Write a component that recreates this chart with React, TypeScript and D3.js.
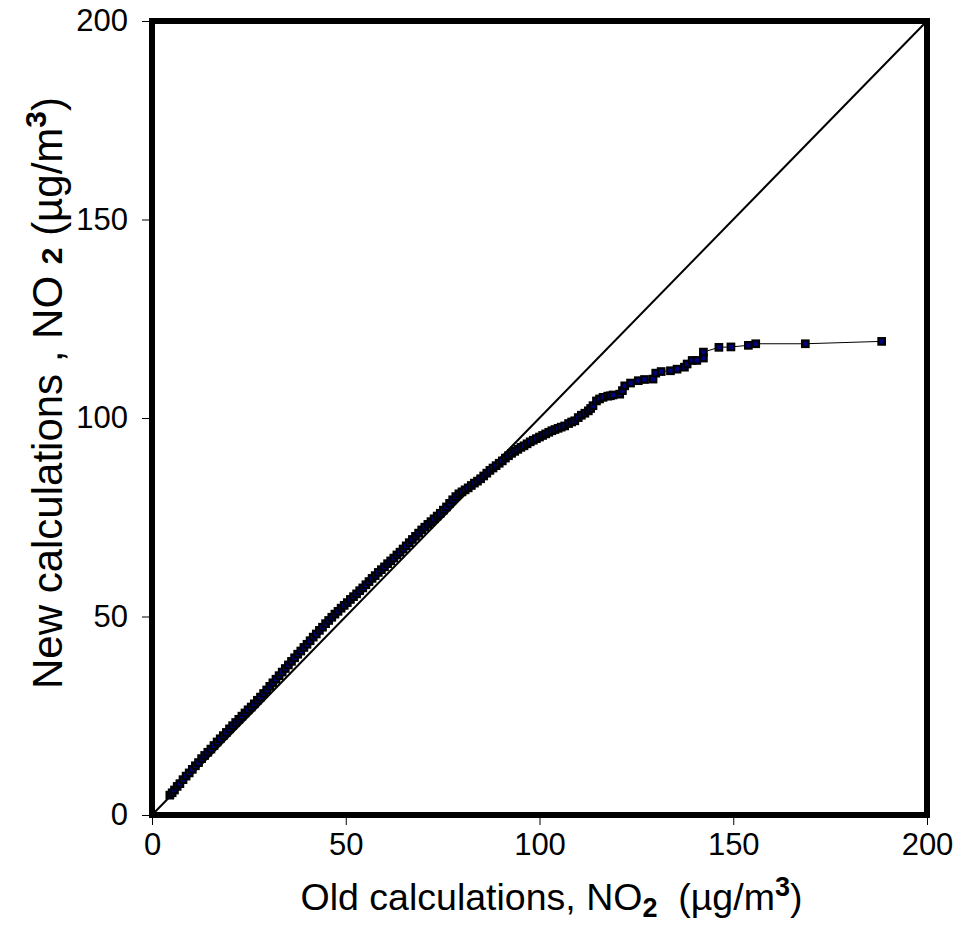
import { useEffect, useRef } from "react";
import * as d3 from "d3";

// old calculations (x), µg/m3
const oldCalc = [
  4.6, 5.2, 5.8, 6.5, 7.2, 8.0, 8.8, 9.6, 10.4, 11.2, 12.0, 12.8, 13.6, 14.4, 15.2, 16.0,
  16.8, 17.6, 18.4, 19.2, 20.0, 20.8, 21.6, 22.4, 23.2, 24.0, 24.8, 25.6, 26.4, 27.2, 28.0,
  28.8, 29.6, 30.4, 31.2, 32.0, 32.8, 33.6, 34.4, 35.2, 36.0, 36.8, 37.6, 38.4, 39.2, 40.0,
  40.8, 41.6, 42.4, 43.2, 44.0, 44.8, 45.6, 46.4, 47.2, 48.0, 48.8, 49.6, 50.4, 51.2, 52.0,
  52.8, 53.6, 54.4, 55.2, 56.0, 56.8, 57.6, 58.4, 59.2, 60.0, 60.8, 61.6, 62.4, 63.2, 64.0,
  64.8, 65.6, 66.4, 67.2, 68.0, 68.8, 69.6, 70.4, 71.2, 72.0, 72.8, 73.6, 74.4, 75.2, 76.0,
  76.8, 77.6, 78.4, 79.2, 80.0, 80.8, 81.6, 82.4, 83.2, 84.0, 84.8, 85.6, 86.4, 87.2, 88.0,
  88.8, 89.6, 90.4, 91.2, 92.0, 92.8, 93.6, 94.4, 95.2, 96.0, 96.8, 97.6, 98.4, 99.2, 100.0,
  100.8, 101.6, 102.4, 103.2, 104.0, 104.8, 105.6,
  106.5, 107.5, 108.3, 109.1, 110.0, 110.8, 111.7, 112.6, 113.2, 113.8, 114.7, 115.5, 116.4,
  117.6, 118.3, 119.0, 120.7, 121.4, 122.0, 123.5, 125.5, 127.1, 129.3, 130.0, 131.4, 133.8,
  135.5, 137.4, 138.1, 139.4, 140.6, 142.3, 142.3, 146.3, 149.4, 153.9, 155.8, 168.6, 188.3,
];

// new calculations (y), µg/m3
const newCalc = [
  5.0, 5.6, 6.3, 7.2, 7.9, 8.9, 9.8, 10.6, 11.5, 12.4, 13.2, 14.2, 15.0, 15.8, 16.6, 17.5,
  18.4, 19.2, 20.0, 20.8, 21.7, 22.5, 23.3, 24.1, 24.9, 25.7, 26.5, 27.2, 28.0, 28.9, 29.7,
  30.6, 31.5, 32.4, 33.3, 34.2, 35.1, 36.0, 36.9, 37.8, 38.7, 39.6, 40.5, 41.3, 42.2, 43.0,
  43.9, 44.8, 45.6, 46.5, 47.3, 48.2, 49.0, 49.8, 50.6, 51.3, 52.1, 52.8, 53.5, 54.3, 55.0,
  55.7, 56.5, 57.2, 58.0, 58.8, 59.6, 60.3, 61.1, 61.8, 62.5, 63.3, 64.0, 64.7, 65.5, 66.2,
  67.0, 67.8, 68.6, 69.4, 70.2, 71.0, 71.8, 72.5, 73.2, 73.9, 74.6, 75.3, 76.0, 76.8, 77.6,
  78.5, 79.4, 80.2, 80.9, 81.4, 81.9, 82.4, 83.0, 83.6, 84.1, 84.7, 85.4, 86.1, 86.8, 87.4,
  88.0, 88.6, 89.2, 89.9, 90.5, 91.1, 91.6, 92.1, 92.6, 93.0, 93.5, 94.0, 94.4, 94.8, 95.2,
  95.6, 96.0, 96.4, 96.8, 97.1, 97.4, 97.7,
  98.0, 98.6, 99.0, 99.3, 100.1, 100.7, 101.2, 101.8, 102.4, 103.1, 104.3, 104.8, 105.2,
  105.5, 105.6, 105.8, 106.0, 106.9, 108.1, 108.8, 109.4, 109.7, 109.8, 111.3, 111.7, 111.9,
  112.3, 112.8, 113.6, 114.5, 114.5, 115.1, 116.6, 117.8, 117.9, 118.3, 118.7, 118.7, 119.3,
];

const axisTicks = [0, 50, 100, 150, 200];

export default function App() {
  const svgRef = useRef<SVGSVGElement>(null);

  useEffect(() => {
    const width = 959;
    const height = 948;
    const marginTop = 21;
    const marginRight = 32;
    const marginBottom = 133;
    const marginLeft = 152;
    const font = "Arial, 'Liberation Sans', sans-serif";

    const x = d3.scaleLinear().domain([0, 200]).range([marginLeft, width - marginRight]);
    const y = d3.scaleLinear().domain([0, 200]).range([height - marginBottom, marginTop]);

    const svg = d3.select(svgRef.current);
    svg.selectAll("*").remove();

    const pts = oldCalc.map((v, i) => [v, newCalc[i]] as [number, number]);

    // 1:1 line
    svg.append("line")
      .attr("x1", x(0)).attr("y1", y(0))
      .attr("x2", x(200)).attr("y2", y(200))
      .attr("stroke", "#000")
      .attr("stroke-width", 2);

    svg.append("path")
      .datum(pts)
      .attr("fill", "none")
      .attr("stroke", "#000")
      .attr("stroke-width", 1)
      .attr("d", d3.line().x(d => x(d[0])).y(d => y(d[1])));

    const s = 6.5;
    svg.append("g")
      .selectAll("rect")
      .data(pts)
      .join("rect")
      .attr("x", d => x(d[0]) - s / 2)
      .attr("y", d => y(d[1]) - s / 2)
      .attr("width", s)
      .attr("height", s)
      .attr("fill", "#000080")
      .attr("stroke", "#000")
      .attr("stroke-width", 2.2);

    const gx = svg.append("g")
      .attr("transform", `translate(0,${y(0)})`)
      .call(d3.axisBottom(x).tickValues(axisTicks).tickSize(10).tickPadding(8).tickSizeOuter(0));
    const gy = svg.append("g")
      .attr("transform", `translate(${x(0)},0)`)
      .call(d3.axisLeft(y).tickValues(axisTicks).tickSize(10).tickPadding(14).tickSizeOuter(0));
    for (const g of [gx, gy]) {
      g.select(".domain").remove();
      g.selectAll("line").attr("stroke", "#000");
      g.selectAll("text")
        .attr("fill", "#000")
        .style("font-family", font)
        .style("font-size", "31px");
    }

    // plot frame
    svg.append("rect")
      .attr("x", x(0))
      .attr("y", y(200))
      .attr("width", x(200) - x(0))
      .attr("height", y(0) - y(200))
      .attr("fill", "none")
      .attr("stroke", "#000")
      .attr("stroke-width", 6);

    // x title
    const xt = svg.append("text")
      .attr("x", (x(0) + x(200)) / 2 + 12)
      .attr("y", 910)
      .attr("text-anchor", "middle")
      .style("font-family", font)
      .style("font-size", "37.5px")
      .attr("xml:space", "preserve");
    xt.append("tspan").text("Old calculations, NO");
    xt.append("tspan").text("2").attr("font-weight", "bold").attr("font-size", "27px").attr("dy", 7);
    xt.append("tspan").text("  (µg/m").attr("dy", -7);
    xt.append("tspan").text("3").attr("font-weight", "bold").attr("font-size", "27px").attr("dy", -14);
    xt.append("tspan").text(")").attr("dy", 14);

    // y title
    const yt = svg.append("text")
      .attr("transform", `translate(62,393) rotate(-90)`)
      .attr("text-anchor", "middle")
      .style("font-family", font)
      .style("font-size", "42px")
      .attr("xml:space", "preserve");
    yt.append("tspan").text("New calculations , NO ");
    yt.append("tspan").text("2").attr("font-weight", "bold").attr("font-size", "30px");
    yt.append("tspan").text(" (µg/m");
    yt.append("tspan").text("3").attr("font-weight", "bold").attr("font-size", "30px").attr("dy", -16);
    yt.append("tspan").text(")").attr("dy", 16);
  }, []);

  return (
    <svg
      ref={svgRef}
      width={959}
      height={948}
      style={{ position: "absolute", left: 0, top: 0, background: "#fff" }}
    ></svg>
  );
}
